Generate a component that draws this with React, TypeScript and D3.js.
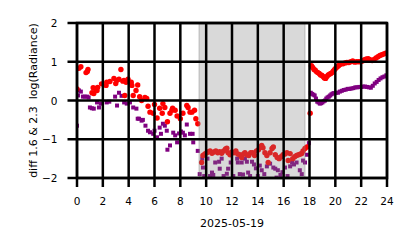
import React from "react";
import * as d3 from "d3";

const xTicks = [0, 2, 4, 6, 8, 10, 12, 14, 16, 18, 20, 22, 24];
const yTicks = [-2, -1, 0, 1, 2];
const shadeStart = 9.45;
const shadeEnd = 17.65;
const xLabel = "2025-05-19";
const yLabel = "diff 1.6 & 2.3  log(Radiance)";

const redHours = [
  0.0, 0.15, 0.3, 0.7, 0.8, 0.85, 1.16, 1.25, 1.3, 1.4, 1.55, 1.6, 1.9, 2.25, 2.3, 2.55, 2.86, 3.0, 3.1, 3.25, 3.4, 3.55, 3.64, 3.7, 3.8, 3.95, 4.2, 4.25, 4.35, 4.57, 4.7, 4.85, 5.0, 5.26, 5.4, 5.5, 5.65, 5.9, 6.0, 6.2, 6.4, 6.6, 6.65, 6.8, 7.0, 7.2, 7.35, 7.4, 7.6, 7.75, 8.0, 8.2, 8.5, 8.6, 8.75, 8.9, 9.1, 9.2, 9.35,
  9.65, 9.75, 9.9, 10.05, 10.2, 10.3, 10.45, 10.6, 10.75, 10.9, 11.05, 11.2, 11.35, 11.5, 11.6, 11.7, 11.85, 12.0, 12.15, 12.3, 12.45, 12.6, 12.75, 12.9, 13.0, 13.15, 13.3, 13.45, 13.6, 13.75, 13.9, 14.05, 14.2, 14.3, 14.4, 14.55, 14.7, 14.8, 14.95, 15.1, 15.2, 15.35, 15.5, 15.65, 15.8, 15.95, 16.1, 16.25, 16.35, 16.5, 16.7, 16.85, 17.0, 17.15, 17.3, 17.4, 17.5, 17.65, 17.8,
  18.05, 18.15, 18.25, 18.35, 18.45, 18.55, 18.65, 18.75, 18.85, 18.95, 19.05, 19.15, 19.25, 19.35, 19.45, 19.55, 19.65, 19.75, 19.85, 19.95, 20.05, 20.15, 20.25, 20.35, 20.45, 20.6, 20.75, 20.9, 21.05, 21.2, 21.35, 21.5, 21.65, 21.8, 21.95, 22.1, 22.25, 22.4, 22.55, 22.7, 22.85, 23.0, 23.15, 23.3, 23.45, 23.6, 23.75, 23.9, 24.0,
];
const redValues = [
  0.3, 0.83, 0.87, 0.72, 0.75, 0.8, 0.2, 0.33, 0.18, 0.31, 0.26, 0.34, 0.43, 0.39, 0.47, 0.49, 0.57, 0.44, 0.52, 0.55, 0.8, 0.5, 0.52, 0.13, 0.47, 0.55, 0.47, 0.39, 0.13, 0.26, 0.4, 0.1, 0.0, 0.08, 0.05, -0.15, -0.3, -0.33, -0.1, -0.45, -0.2, -0.33, -0.08, -0.18, -0.55, -0.33, -0.25, -0.2, -0.25, -0.4, -0.47, -0.33, -0.13, -0.18, -0.3, -0.3, -0.25, -0.47, -0.6,
  -1.6, -1.42, -1.38, -1.35, -1.32, -1.3, -1.36, -1.33, -1.3, -1.35, -1.32, -1.36, -1.3, -1.25, -1.23, -1.35, -1.4, -1.33, -1.35, -1.3, -1.38, -1.4, -1.47, -1.38, -1.35, -1.4, -1.42, -1.35, -1.35, -1.42, -1.3, -1.27, -1.2, -1.16, -1.22, -1.35, -1.42, -1.6, -1.35, -1.24, -1.2, -1.4, -1.47, -1.5, -1.45, -1.4, -1.38, -1.35, -1.55, -1.37, -1.5, -1.45, -1.42, -1.4, -1.38, -1.37, -1.3, -1.24, -1.2,
  -0.33, 0.9, 0.85, 0.8, 0.78, 0.74, 0.72, 0.7, 0.66, 0.65, 0.62, 0.58, 0.57, 0.62, 0.66, 0.68, 0.7, 0.72, 0.76, 0.8, 0.84, 0.87, 0.9, 0.93, 0.95, 0.95, 0.97, 0.98, 0.98, 1.0, 1.02, 0.99, 1.0, 1.0, 1.0, 1.02, 1.05, 1.07, 1.08, 1.05, 1.03, 1.06, 1.1, 1.13, 1.16, 1.18, 1.2, 1.22, 1.22,
];

const purpleHours = [
  0.0, 0.08, 0.15, 0.3, 0.46, 0.6, 0.77, 0.9, 1.0, 1.15, 1.3, 1.55, 1.7, 1.85, 2.3, 2.5, 2.95, 3.1, 3.25, 3.45, 3.65, 3.85, 4.1, 4.35, 4.6, 4.7, 4.8, 5.0, 5.1, 5.3, 5.5, 5.65, 5.9, 6.0, 6.2, 6.4, 6.5, 6.65, 6.8, 6.95, 7.0, 7.2, 7.45, 7.6, 7.75, 7.9, 8.05, 8.2, 8.35, 8.5, 8.75, 8.95, 9.0, 9.35,
  9.5, 9.7, 9.75, 9.85, 10.1, 10.3, 10.45, 10.55, 10.7, 11.0, 11.05, 11.2, 11.35, 11.6, 11.7, 11.9, 12.1, 12.4, 12.45, 12.6, 12.75, 12.85, 13.0, 13.15, 13.25, 13.4, 13.55, 13.7, 13.85, 14.0, 14.15, 14.3, 14.5, 14.7, 14.95, 15.2, 15.35, 15.45, 15.55, 15.75, 15.9, 16.1, 16.3, 16.5, 16.65, 16.8, 17.0, 17.25, 17.4, 17.5, 17.65, 17.8, 17.95,
  18.1, 18.2, 18.3, 18.4, 18.5, 18.6, 18.7, 18.8, 18.9, 19.0, 19.1, 19.2, 19.3, 19.4, 19.5, 19.6, 19.7, 19.8, 19.9, 20.05, 20.2, 20.35, 20.5, 20.65, 20.8, 20.95, 21.1, 21.25, 21.4, 21.55, 21.7, 21.85, 22.0, 22.15, 22.3, 22.45, 22.6, 22.75, 22.9, 23.05, 23.2, 23.35, 23.5, 23.65, 23.8, 23.95,
];
const purpleValues = [
  -0.65, 0.13, 0.26, 0.23, 0.1, 0.1, 0.1, 0.08, -0.18, -0.2, -0.21, -0.05, -0.18, -0.08, -0.05, -0.03, 0.1, -0.13, 0.2, 0.12, -0.05, -0.08, -0.05, -0.18, -0.21, -0.47, -0.47, -0.52, -0.5, -0.65, -0.78, -0.82, -0.86, -0.78, -0.95, -0.7, -0.86, -0.6, -0.65, -0.78, -1.27, -1.16, -0.83, -0.9, -1.08, -0.85, -0.8, -0.83, -0.9, -0.62, -0.86, -0.86, -1.08, -1.3,
  -1.9, -1.5, -1.73, -1.95, -1.5, -1.95, -1.86, -1.92, -1.6, -1.58, -1.76, -1.5, -1.95, -1.89, -1.76, -1.6, -1.95, -1.5, -1.6, -1.9, -1.6, -1.91, -1.5, -1.58, -1.86, -1.95, -1.58, -1.65, -1.75, -1.95, -1.68, -1.8, -1.9, -1.7, -1.63, -1.73, -1.76, -1.99, -1.8, -1.92, -1.85, -1.73, -1.95, -1.7, -1.6, -1.65, -1.6, -1.8, -1.9, -1.55, -1.6, -1.4, -1.1,
  0.2, 0.17, 0.15, 0.13, 0.05, -0.03, -0.05, -0.08, -0.07, -0.05, -0.02, 0.0, 0.05, 0.08, 0.1, 0.13, 0.16, 0.18, 0.19, 0.2, 0.2, 0.23, 0.25, 0.27, 0.28, 0.3, 0.3, 0.31, 0.32, 0.34, 0.34, 0.35, 0.35, 0.36, 0.36, 0.35, 0.34, 0.33, 0.38, 0.44, 0.48, 0.53, 0.57, 0.6, 0.62, 0.65,
];

const W = 414;
const H = 248;
const L = 77;
const R = 387;
const T = 23;
const B = 178;
const FONT = "DejaVu Sans, sans-serif";

export default function App() {
  const x = d3.scaleLinear().domain([0, 24]).range([L, R]);
  const y = d3.scaleLinear().domain([-2, 2]).range([B, T]);
  const sq = 4;
  return (
    <svg width={W} height={H} style={{ position: "absolute", left: 0, top: 0 }}>
      <rect width={W} height={H} fill="white" />
      <defs>
        <clipPath id="plot">
          <rect x={L} y={T} width={R - L} height={B - T} />
        </clipPath>
      </defs>
      <g clipPath="url(#plot)">
        {purpleHours.map((h, i) => (
          <rect key={"p" + i} x={x(h) - sq / 2} y={y(purpleValues[i]) - sq / 2} width={sq} height={sq} fill="purple" />
        ))}
        {redHours.map((h, i) => (
          <circle key={"r" + i} cx={x(h)} cy={y(redValues[i])} r={2.7} fill="red" />
        ))}
        <rect
          x={x(shadeStart)}
          y={T}
          width={x(shadeEnd) - x(shadeStart)}
          height={B - T}
          fill="gray"
          fillOpacity={0.3}
          stroke="gray"
          strokeOpacity={0.3}
          strokeWidth={1.5}
        />
      </g>
      {xTicks.map((t) => (
        <line key={"gx" + t} x1={x(t)} x2={x(t)} y1={T} y2={B + 9} stroke="black" strokeWidth={2.5} />
      ))}
      {yTicks.map((t) => (
        <line key={"gy" + t} x1={L - 9.5} x2={R} y1={y(t)} y2={y(t)} stroke="black" strokeWidth={2.5} />
      ))}
      <rect x={L} y={T} width={R - L} height={B - T} fill="none" stroke="black" strokeWidth={2.5} />
      {xTicks.map((t) => (
        <text key={"tx" + t} x={x(t)} y={205} textAnchor="middle" fontFamily={FONT} fontSize={10.5} fill="black">
          {t}
        </text>
      ))}
      {yTicks.map((t) => (
        <text key={"ty" + t} x={57.5} y={y(t) + 4} textAnchor="end" fontFamily={FONT} fontSize={10.5} fill="black">
          {t < 0 ? "\u2212" + Math.abs(t) : String(t)}
        </text>
      ))}
      <text x={(L + R) / 2} y={227} textAnchor="middle" fontFamily={FONT} fontSize={11} fill="black">
        {xLabel}
      </text>
      <text
        transform={`translate(37,${(T + B) / 2}) rotate(-90)`}
        textAnchor="middle"
        fontFamily={FONT}
        fontSize={11}
        fill="black"
        xmlSpace="preserve"
        style={{ whiteSpace: "pre" }}
      >
        {yLabel}
      </text>
    </svg>
  );
}
